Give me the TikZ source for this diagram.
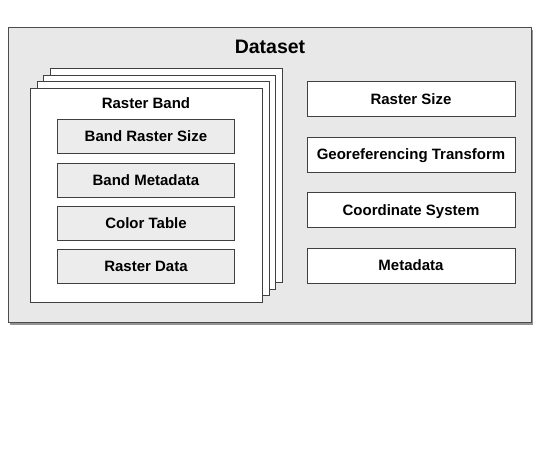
\documentclass[tikz,border=0pt]{standalone}
\usepackage{fontspec}
\setmainfont{Liberation Sans}
\usetikzlibrary{shadows}

\tikzset{
  boxtext/.style={font=\bfseries\fontsize{15}{18}\selectfont,
    text height=10.7pt, text depth=0pt},
  field/.style={boxtext, draw=black!75, fill=gray!15, inner sep=0pt,
    minimum width=177pt, minimum height=34pt},
  prop/.style={field, fill=white, minimum width=208pt, minimum height=35pt},
  sheet/.style={draw=black!75, fill=white, inner sep=0pt,
    minimum width=232pt, minimum height=214pt}
}

\begin{document}
\begin{tikzpicture}[x=1pt,y=-1pt]
\useasboundingbox (0,0) rectangle (540,452);

%DATASET
% outer box
\node[draw=black!70, fill=gray!18, inner sep=0pt, anchor=north west,
  minimum width=523pt, minimum height=295pt,
  drop shadow={shadow xshift=1.5pt, shadow yshift=-2.5pt, fill=black!70, opacity=.6}]
  (dataset) at (8,27) {};
\node[font=\bfseries\fontsize{19.5}{22}\selectfont, text height=14pt, text depth=0pt]
  (title) at (270,46) {Dataset};

%BANDS
% stacked sheets behind
\foreach \k in {3,2,1}
  \node[sheet] (sheet\k) at (146+6.7*\k,195-6.5*\k) {};
% front sheet
\node[sheet] (band) at (146,195) {};
\node[boxtext] (bandtitle) at (146,103) {Raster Band};

% band fields
\node[field] (bandsize) at (146,136.3) {Band Raster Size};
\node[field] (bandmeta) at (146,179.7) {Band Metadata};
\node[field] (colortable) at (146,223) {Color Table};
\node[field] (rasterdata) at (146,266.3) {Raster Data};

%PROPERTIES
\node[prop] (rastersize) at (411,99) {Raster Size};
\node[prop] (geotransform) at (411,154.4) {Georeferencing Transform};
\node[prop] (crs) at (411,209.8) {Coordinate System};
\node[prop] (metadata) at (411,265.2) {Metadata};

\end{tikzpicture}
\end{document}
